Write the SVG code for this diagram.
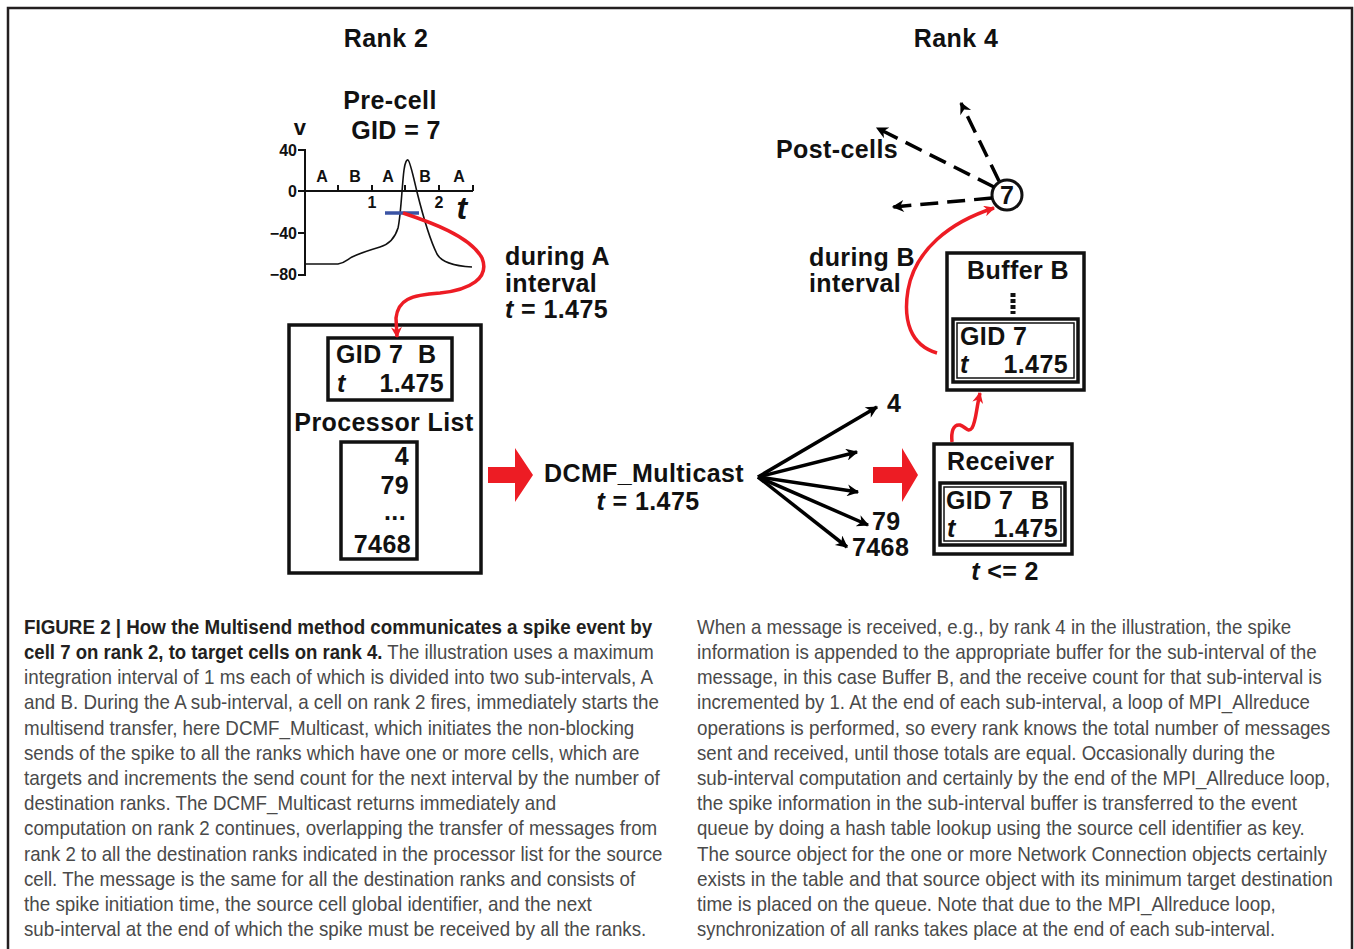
<svg xmlns="http://www.w3.org/2000/svg" width="1354" height="949" viewBox="0 0 1354 949">
<style>
.lbl{font-family:"Liberation Sans",Arial,sans-serif;font-weight:bold;font-size:25px;fill:#111;letter-spacing:0.4px}
.it{font-style:italic}
.sm{font-family:"Liberation Sans",Arial,sans-serif;font-weight:bold;font-size:16px;fill:#111}
.box{fill:none;stroke:#111;stroke-width:3.5}
.thin{fill:none;stroke:#111;stroke-width:1.5}
.ax{fill:none;stroke:#111;stroke-width:2}
.red{fill:none;stroke:#ed1c24;stroke-width:3.5}
.blk{fill:none;stroke:#000;stroke-width:3.5}
.dash{fill:none;stroke:#000;stroke-width:3.5;stroke-dasharray:18 9}
.cap{font-family:"Liberation Sans",Arial,sans-serif;font-size:20px;fill:#4a4a4a}
.capb{font-family:"Liberation Sans",Arial,sans-serif;font-size:20px;font-weight:bold;fill:#231f20}
</style>
<defs>
<marker id="ah" viewBox="0 0 10 10" refX="9" refY="5" markerWidth="17" markerHeight="12" markerUnits="userSpaceOnUse" orient="auto"><path d="M0,0 L10,5 L0,10 L3,5 z" fill="#000"/></marker>
<marker id="ahr" viewBox="0 0 10 10" refX="9" refY="5" markerWidth="14" markerHeight="11" markerUnits="userSpaceOnUse" orient="auto"><path d="M0,0 L10,5 L0,10 L3,5 z" fill="#ed1c24"/></marker>
</defs>
<rect width="1354" height="949" fill="#fff"/>
<path d="M8,960 V8 H1352 V960" fill="none" stroke="#231f20" stroke-width="2.5"/>

<g id="titles">
<text class="lbl" x="386" y="47" text-anchor="middle">Rank 2</text>
<text class="lbl" x="956" y="47" text-anchor="middle">Rank 4</text>
</g>

<g id="precell">
<text class="lbl" x="390" y="109" text-anchor="middle">Pre-cell</text>
<text class="lbl" x="396" y="139" text-anchor="middle">GID = 7</text>
<text class="lbl" x="300" y="135" text-anchor="middle" style="font-size:22px">v</text>
<path class="ax" d="M298,150 H305 V275 H298 M298,191 H473 M298,233 H305 M338,191 V185 M372,191 V185 M405,191 V185 M439,191 V185 M473,191 V185"/>
<text class="sm" x="297" y="156" text-anchor="end">40</text>
<text class="sm" x="297" y="197" text-anchor="end">0</text>
<text class="sm" x="297" y="239" text-anchor="end">−40</text>
<text class="sm" x="297" y="280" text-anchor="end">−80</text>
<text class="sm" x="322" y="182" text-anchor="middle">A</text>
<text class="sm" x="355" y="182" text-anchor="middle">B</text>
<text class="sm" x="388" y="182" text-anchor="middle">A</text>
<text class="sm" x="425" y="182" text-anchor="middle">B</text>
<text class="sm" x="459" y="182" text-anchor="middle">A</text>
<text class="sm" x="372" y="208" text-anchor="middle">1</text>
<text class="sm" x="439" y="208" text-anchor="middle">2</text>
<text class="lbl it" x="462" y="219" text-anchor="middle" style="font-size:32px">t</text>
<path d="M305,264 L338,264 C345,263 348,259 352,257 C360,253 370,250 380,247 C390,244 395,238 398,228 C401,215 402,185 404,170 C405,162 407,159 408,160 C410,161 413,175 417,192 C422,212 430,240 437,254 C442,263 455,266 472,267" fill="none" stroke="#111" stroke-width="1.6"/>
<path d="M385,213 H419" stroke="#3a53a4" stroke-width="3.5"/>
</g>

<g id="labelA">
<text class="lbl" x="505" y="265">during A</text>
<text class="lbl" x="505" y="292">interval</text>
<text class="lbl" x="505" y="318"><tspan class="it">t</tspan> = 1.475</text>
</g>

<g id="processor">
<rect class="box" x="289" y="325" width="192" height="248"/>
<rect class="box" x="328" y="338" width="124" height="62"/>
<text class="lbl" x="336" y="363">GID 7</text>
<text class="lbl" x="418" y="363">B</text>
<text class="lbl it" x="337" y="392">t</text>
<text class="lbl" x="444" y="392" text-anchor="end">1.475</text>
<text class="lbl" x="384" y="431" text-anchor="middle">Processor List</text>
<rect class="box" x="341" y="442" width="76" height="117"/>
<text class="lbl" x="409" y="465" text-anchor="end">4</text>
<text class="lbl" x="409" y="494" text-anchor="end">79</text>
<text class="lbl" x="406" y="520" text-anchor="end">...</text>
<text class="lbl" x="411" y="553" text-anchor="end">7468</text>
</g>

<g id="multicast">
<text class="lbl" x="644" y="482" text-anchor="middle">DCMF_Multicast</text>
<text class="lbl" x="648" y="510" text-anchor="middle"><tspan class="it">t</tspan> = 1.475</text>
</g>

<g id="fanlabels">
<text class="lbl" x="887" y="412">4</text>
<text class="lbl" x="872" y="530">79</text>
<text class="lbl" x="852" y="556">7468</text>
</g>

<g id="receiver">
<rect class="box" x="934" y="444" width="138" height="110"/>
<rect class="box" x="940" y="483" width="125" height="62"/>
<rect class="thin" x="944" y="487" width="117" height="54"/>
<text class="lbl" x="947" y="470">Receiver</text>
<text class="lbl" x="946" y="509">GID 7</text>
<text class="lbl" x="1031" y="509">B</text>
<text class="lbl it" x="947" y="537">t</text>
<text class="lbl" x="1058" y="537" text-anchor="end">1.475</text>
<text class="lbl" x="1005" y="580" text-anchor="middle"><tspan class="it">t</tspan> &lt;= 2</text>
</g>

<g id="bufferB">
<rect class="box" x="947" y="253" width="137" height="137"/>
<text class="lbl" x="1018" y="279" text-anchor="middle">Buffer B</text>
<path d="M1013,293 V314" stroke="#111" stroke-width="5" stroke-dasharray="4 2"/>
<rect class="box" x="953" y="319" width="125" height="63"/>
<rect class="thin" x="957" y="323" width="117" height="55"/>
<text class="lbl" x="960" y="345">GID 7</text>
<text class="lbl it" x="960" y="373">t</text>
<text class="lbl" x="1068" y="373" text-anchor="end">1.475</text>
</g>

<g id="cell7">
<circle cx="1007" cy="195" r="15" fill="#fff" stroke="#111" stroke-width="3"/>
<text class="lbl" x="1007" y="204" text-anchor="middle" style="letter-spacing:0">7</text>
<text class="lbl" x="776" y="158">Post-cells</text>
</g>

<g id="labelB">
<text class="lbl" x="809" y="266">during B</text>
<text class="lbl" x="809" y="292">interval</text>
</g>

<g id="connectors">
<path class="red" d="M403,213 C430,222 470,236 482,258 C490,278 470,290 440,293 C410,295 398,300 396,318 L397,337" marker-end="url(#ahr)"/>
<polygon points="488,467 515,467 515,448 533,475 515,502 515,483 488,483" fill="#ed1c24"/>
<polygon points="873,467 902,467 902,448 918,475 902,502 902,483 873,483" fill="#ed1c24"/>
<path class="blk" d="M758,477 L877,407" marker-end="url(#ah)"/>
<path class="blk" d="M758,477 L857,452" marker-end="url(#ah)"/>
<path class="blk" d="M758,477 L858,492" marker-end="url(#ah)"/>
<path class="blk" d="M758,477 L868,525" marker-end="url(#ah)"/>
<path class="blk" d="M758,477 L847,547" marker-end="url(#ah)"/>
<path class="red" d="M952,442 C951,432 953,424 960,425 C966,427 968,433 972,428 C976,422 976,410 980,393" marker-end="url(#ahr)"/>
<path class="red" d="M937,353 C910,345 903,320 908,290 C915,250 950,222 994,208" marker-end="url(#ahr)"/>
<path class="dash" d="M994,187 L877,128" marker-end="url(#ah)"/>
<path class="dash" d="M999,181 L961,103" marker-end="url(#ah)"/>
<path class="dash" d="M992,198 L893,207" marker-end="url(#ah)"/>
</g>

<g id="caption-left">
<text class="capb" transform="translate(24,634) scale(0.85,1)" textLength="739" lengthAdjust="spacingAndGlyphs">FIGURE 2 | How the Multisend method communicates a spike event by</text>
<text class="cap" transform="translate(24,659) scale(0.85,1)" textLength="741" lengthAdjust="spacingAndGlyphs"><tspan class="capb">cell 7 on rank 2, to target cells on rank 4.</tspan> The illustration uses a maximum</text>
<text class="cap" transform="translate(24,684) scale(0.85,1)" textLength="740" lengthAdjust="spacingAndGlyphs">integration interval of 1 ms each of which is divided into two sub-intervals, A</text>
<text class="cap" transform="translate(24,709) scale(0.85,1)" textLength="747" lengthAdjust="spacingAndGlyphs">and B. During the A sub-interval, a cell on rank 2 fires, immediately starts the</text>
<text class="cap" transform="translate(24,735) scale(0.85,1)" textLength="718" lengthAdjust="spacingAndGlyphs">multisend transfer, here DCMF_Multicast, which initiates the non-blocking</text>
<text class="cap" transform="translate(24,760) scale(0.85,1)" textLength="724" lengthAdjust="spacingAndGlyphs">sends of the spike to all the ranks which have one or more cells, which are</text>
<text class="cap" transform="translate(24,785) scale(0.85,1)" textLength="748" lengthAdjust="spacingAndGlyphs">targets and increments the send count for the next interval by the number of</text>
<text class="cap" transform="translate(24,810) scale(0.85,1)" textLength="626" lengthAdjust="spacingAndGlyphs">destination ranks. The DCMF_Multicast returns immediately and</text>
<text class="cap" transform="translate(24,835) scale(0.85,1)" textLength="745" lengthAdjust="spacingAndGlyphs">computation on rank 2 continues, overlapping the transfer of messages from</text>
<text class="cap" transform="translate(24,861) scale(0.85,1)" textLength="751" lengthAdjust="spacingAndGlyphs">rank 2 to all the destination ranks indicated in the processor list for the source</text>
<text class="cap" transform="translate(24,886) scale(0.85,1)" textLength="719" lengthAdjust="spacingAndGlyphs">cell. The message is the same for all the destination ranks and consists of</text>
<text class="cap" transform="translate(24,911) scale(0.85,1)" textLength="668" lengthAdjust="spacingAndGlyphs">the spike initiation time, the source cell global identifier, and the next</text>
<text class="cap" transform="translate(24,936) scale(0.85,1)" textLength="732" lengthAdjust="spacingAndGlyphs">sub-interval at the end of which the spike must be received by all the ranks.</text>
</g>

<g id="caption-right">
<text class="cap" transform="translate(697,634) scale(0.85,1)" textLength="699" lengthAdjust="spacingAndGlyphs">When a message is received, e.g., by rank 4 in the illustration, the spike</text>
<text class="cap" transform="translate(697,659) scale(0.85,1)" textLength="729" lengthAdjust="spacingAndGlyphs">information is appended to the appropriate buffer for the sub-interval of the</text>
<text class="cap" transform="translate(697,684) scale(0.85,1)" textLength="735" lengthAdjust="spacingAndGlyphs">message, in this case Buffer B, and the receive count for that sub-interval is</text>
<text class="cap" transform="translate(697,709) scale(0.85,1)" textLength="721" lengthAdjust="spacingAndGlyphs">incremented by 1. At the end of each sub-interval, a loop of MPI_Allreduce</text>
<text class="cap" transform="translate(697,735) scale(0.85,1)" textLength="745" lengthAdjust="spacingAndGlyphs">operations is performed, so every rank knows the total number of messages</text>
<text class="cap" transform="translate(697,760) scale(0.85,1)" textLength="680" lengthAdjust="spacingAndGlyphs">sent and received, until those totals are equal. Occasionally during the</text>
<text class="cap" transform="translate(697,785) scale(0.85,1)" textLength="745" lengthAdjust="spacingAndGlyphs">sub-interval computation and certainly by the end of the MPI_Allreduce loop,</text>
<text class="cap" transform="translate(697,810) scale(0.85,1)" textLength="706" lengthAdjust="spacingAndGlyphs">the spike information in the sub-interval buffer is transferred to the event</text>
<text class="cap" transform="translate(697,835) scale(0.85,1)" textLength="715" lengthAdjust="spacingAndGlyphs">queue by doing a hash table lookup using the source cell identifier as key.</text>
<text class="cap" transform="translate(697,861) scale(0.85,1)" textLength="741" lengthAdjust="spacingAndGlyphs">The source object for the one or more Network Connection objects certainly</text>
<text class="cap" transform="translate(697,886) scale(0.85,1)" textLength="748" lengthAdjust="spacingAndGlyphs">exists in the table and that source object with its minimum target destination</text>
<text class="cap" transform="translate(697,911) scale(0.85,1)" textLength="681" lengthAdjust="spacingAndGlyphs">time is placed on the queue. Note that due to the MPI_Allreduce loop,</text>
<text class="cap" transform="translate(697,936) scale(0.85,1)" textLength="680" lengthAdjust="spacingAndGlyphs">synchronization of all ranks takes place at the end of each sub-interval.</text>
</g>
</svg>
